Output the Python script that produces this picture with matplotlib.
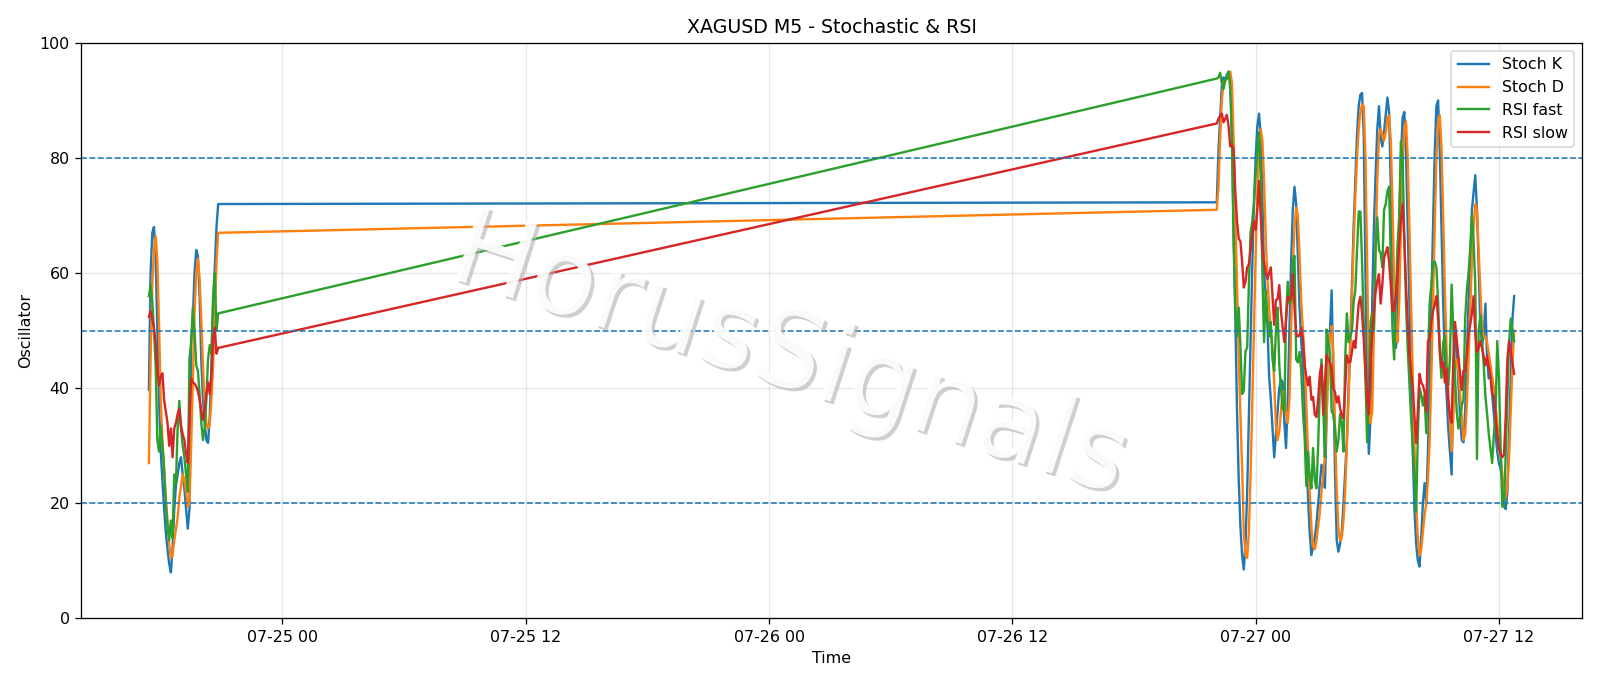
import numpy as np
import pandas as pd
import matplotlib
matplotlib.use('Agg')
import matplotlib.pyplot as plt
import matplotlib.dates as mdates
import matplotlib.patheffects as pe

# 5 minute bars: friday session before the weekend gap, then sunday/monday session
t1 = pd.date_range('2020-07-24 17:25', periods=42, freq='5min')
t2 = pd.date_range('2020-07-26 22:05', periods=177, freq='5min')

k1 = [39.7, 60, 67, 68, 63, 50, 38, 29, 24, 19,
      15, 12, 9.5, 8, 12, 19, 23, 25, 27, 28,
      25, 22.5, 19, 15.6, 19, 48, 52, 60, 64, 63,
      56, 45, 38, 34, 31, 30.5, 35, 44, 54, 61,
      68, 72]
d1 = [27, 45, 58, 64, 66.5, 62, 51, 38, 31, 26,
      21, 17, 13, 10.5, 11, 13.5, 15.5, 17.5, 21, 23,
      25, 24, 22, 19.5, 20, 30, 41, 53, 60, 62.5,
      59, 52, 44, 37, 34, 33, 33.8, 38, 44, 53,
      62, 67]
rf1 = [56, 58, 55, 50, 44, 31, 29, 33.5, 30, 26,
       20, 16, 13.6, 17, 14, 25, 23.4, 33, 37.8, 33,
       30, 28, 25, 22, 45, 48, 54, 50, 44, 43,
       39, 34, 31, 33, 38, 45, 47.5, 46, 56, 60,
       50, 53]
rs1 = [52.4, 53.4, 52, 50.5, 48, 43, 40.5, 42, 42.6, 38,
       36, 34, 30, 33, 28, 33, 34, 35.5, 36.4, 33.5,
       32, 31, 28.6, 27, 35, 41.7, 41, 40.8, 40.3, 39.5,
       38, 36, 34.5, 36.5, 39, 41, 39, 42, 48.8, 50.5,
       46, 47]

k2 = [72.3, 81, 87, 92.5, 94, 93.5, 94.5, 95, 94, 84,
      67, 52, 36, 24, 16, 11, 8.5, 13, 22, 35,
      48, 61, 72, 80, 85.5, 87.7, 84, 73, 60, 56,
      51, 42, 38, 33, 28, 32, 36, 40, 41.5, 41,
      34, 29.6, 38, 50, 62, 71, 75, 72, 63, 54,
      48, 44, 37, 29, 21, 15, 11, 12.5, 14, 16.5,
      20, 23.4, 26.7, 25, 22.7, 35, 47, 50, 57, 42,
      25, 13.6, 11.6, 13, 15, 20, 25.4, 31, 40, 48,
      58, 68, 76, 84, 89, 91, 91.3, 84, 60, 40,
      28.6, 35, 55, 68, 77, 85, 89, 83.5, 82, 84.5,
      87.5, 90.5, 88, 75, 62, 52, 47, 50, 68, 80,
      87, 88, 81, 68, 55, 42, 29, 19, 13, 10,
      9, 14, 20, 23.5, 20, 29, 42, 55, 68, 81,
      89, 90, 81, 68, 55, 45, 39, 33, 29, 25,
      41, 50, 47, 41, 35, 31, 30.6, 36, 45, 55,
      61, 71, 74, 77, 71, 61, 51, 47.5, 49, 54.7,
      45, 41.7, 43, 39, 35.4, 32, 29, 27, 26, 24,
      19.5, 19, 22, 32, 42, 52, 56]
d2 = [71, 75, 83.5, 90, 93, 93.5, 93.8, 94.7, 95, 93,
      83, 70, 58, 45, 35.5, 26, 15, 11, 10.5, 15,
      25, 37, 50, 63, 74, 82, 85, 83, 76, 66,
      59, 54, 50, 47, 41, 33.5, 31, 32.5, 36, 39.5,
      39, 35.5, 34, 38, 50, 61, 68, 71.4, 70, 63,
      55, 50, 45, 37, 29, 22, 16, 12.5, 12, 13.5,
      16, 18.5, 22, 25, 28, 35, 44, 49, 50.8, 46,
      33, 22, 15.6, 13.5, 14, 17, 22, 30, 38, 47,
      56, 65, 73, 80, 85, 88, 89.3, 89, 80, 62,
      42, 34, 36, 50, 64, 76, 84, 85, 84, 83,
      84.5, 87, 87.4, 83, 72, 58, 50, 48, 55, 68,
      79, 85, 86.4, 80, 68, 55, 42, 30, 20, 14,
      11, 12, 15, 18, 20, 24, 31, 42, 55, 68,
      80, 86, 87.4, 82, 70, 57, 47, 39, 34, 29,
      35, 44, 45, 43, 39, 35, 31, 32, 37, 45,
      54, 62, 68, 72, 71, 64, 57, 51, 49, 49,
      48, 46, 44, 42, 40, 37, 34, 31, 28, 25,
      22, 21, 23, 28, 36, 44, 50]
rf2 = [93.8, 94, 94.8, 93, 92, 93.5, 93.8, 95, 92, 83,
       65, 54, 49, 54, 47.5, 39, 39.5, 46.5, 47, 58,
       67, 69, 72, 77, 81, 84.5, 77, 60, 48, 57,
       52, 49, 51.5, 45, 43, 50, 54, 44, 40, 36.5,
       36, 52, 58.5, 54.7, 55, 62, 63, 45, 44.5, 46.3,
       43, 36, 31.6, 23, 29, 24.5, 22.6, 29.6, 24, 22.6,
       30, 40, 45, 37, 28, 50.2, 48, 46, 36, 35.4,
       33, 29, 31, 35.5, 34, 29, 45, 53, 48, 49,
       50, 55, 57, 64, 70.7, 70.7, 62, 51, 41.7, 30.6,
       40, 51.5, 53, 50, 64.5, 69.7, 64, 63.5, 61, 71,
       72, 74.3, 75, 62, 50, 45, 55, 64.9, 70, 82.9,
       80, 66, 54.7, 47, 41, 35, 30, 25, 18.5, 32,
       40, 39, 37, 38.6, 32.2, 45, 54.7, 58, 61.7, 62,
       61, 55, 46, 41.8, 48, 49, 42, 40.5, 45, 58,
       50, 42, 36, 33, 35, 37, 38, 52, 57, 60,
       64.3, 70, 65.6, 58, 27.7, 50, 52.7, 48.2, 44, 38.6,
       35.5, 32, 29.5, 27, 32, 35.4, 48.2, 42, 30, 19.4,
       19.5, 28.6, 38.5, 48, 52.1, 50, 48.2]
rs2 = [86, 86.8, 87.3, 87.7, 86.2, 86.8, 87.5, 85.5, 82, 82.3,
       81.5, 74, 69, 66, 65.5, 62, 57.5, 58.5, 61, 61.5,
       64, 67, 69, 67.5, 71, 76, 70, 64, 62, 60,
       59, 60, 61, 56, 51, 55.3, 55.5, 57.9, 53.4, 50.5,
       48, 52, 55.9, 55.3, 55.9, 59.8, 54, 49.5, 49, 49.2,
       50.5, 48.5, 44, 42, 40.5, 42, 38, 38.5, 35.4, 35,
       38, 42.5, 44, 35.4, 41, 45.7, 45, 44.5, 43.5, 40,
       39.3, 37.5, 38.6, 36.5, 35.2, 34.8, 40, 45.7, 44.5, 44.5,
       46.3, 48.2, 47, 50.8, 54.7, 55.9, 53, 48.5, 43, 38,
       35.5, 44.5, 49.5, 53, 56.7, 58.6, 59.8, 54.7, 58, 62.6,
       63.6, 64.5, 62, 58, 53.5, 53.4, 56, 60, 65, 69.4,
       72, 66, 58, 51.5, 46, 43, 40, 35.4, 30.5, 36,
       42.5, 41, 40.5, 39.3, 36, 48.2, 48.5, 51.5, 53.4, 54.5,
       56, 52, 47, 43.6, 44.5, 41, 43.5, 38, 35, 34,
       45, 51.5, 48.5, 45.5, 42.5, 39.7, 43, 43, 46, 49.5,
       51, 53, 56, 49.5, 46.3, 47, 48.2, 47, 45.5, 44,
       45.5, 43.7, 42, 39, 38.6, 35.4, 32, 29.6, 28.5, 28,
       28.5, 35, 45, 48.2, 46.3, 44.4, 42.5]

times = t1.append(t2)
stoch_k = np.array(k1 + k2)
stoch_d = np.array(d1 + d2)
rsi_fast = np.array(rf1 + rf2)
rsi_slow = np.array(rs1 + rs2)
levels = [20, 50, 80]

dpi = 1600 / 14
fig, ax = plt.subplots(figsize=(14, 686 / dpi), dpi=dpi)
plt.subplots_adjust(left=0.0504, right=0.989, top=0.9375, bottom=0.0985)

ax.plot(times, stoch_k, color='tab:blue', lw=1.5, label='Stoch K')
ax.plot(times, stoch_d, color='tab:orange', lw=1.5, label='Stoch D')
ax.plot(times, rsi_fast, color='tab:green', lw=1.5, label='RSI fast')
ax.plot(times, rsi_slow, color='tab:red', lw=1.5, label='RSI slow')

for lv in levels:
    ax.axhline(lv, color='tab:blue', ls='--', lw=1)

ax.set_ylim(0, 100)
ax.grid(True, alpha=0.3)
ax.xaxis.set_major_locator(mdates.HourLocator(byhour=[0, 12]))
ax.xaxis.set_major_formatter(mdates.DateFormatter('%m-%d %H'))
ax.set_title('XAGUSD M5 - Stochastic & RSI')
ax.set_xlabel('Time')
ax.set_ylabel('Oscillator')
ax.legend(loc='upper right')

# watermark
ax.text(0.472, 0.455, 'HorusSignals', transform=ax.transAxes, fontsize=68,
        rotation=-18, ha='center', va='center', color='white', alpha=0.9,
        zorder=10,
        path_effects=[pe.withSimplePatchShadow(offset=(2, -2), shadow_rgbFace='#b0b0b0', alpha=0.6)])

fig.savefig('out.png', dpi=dpi)
